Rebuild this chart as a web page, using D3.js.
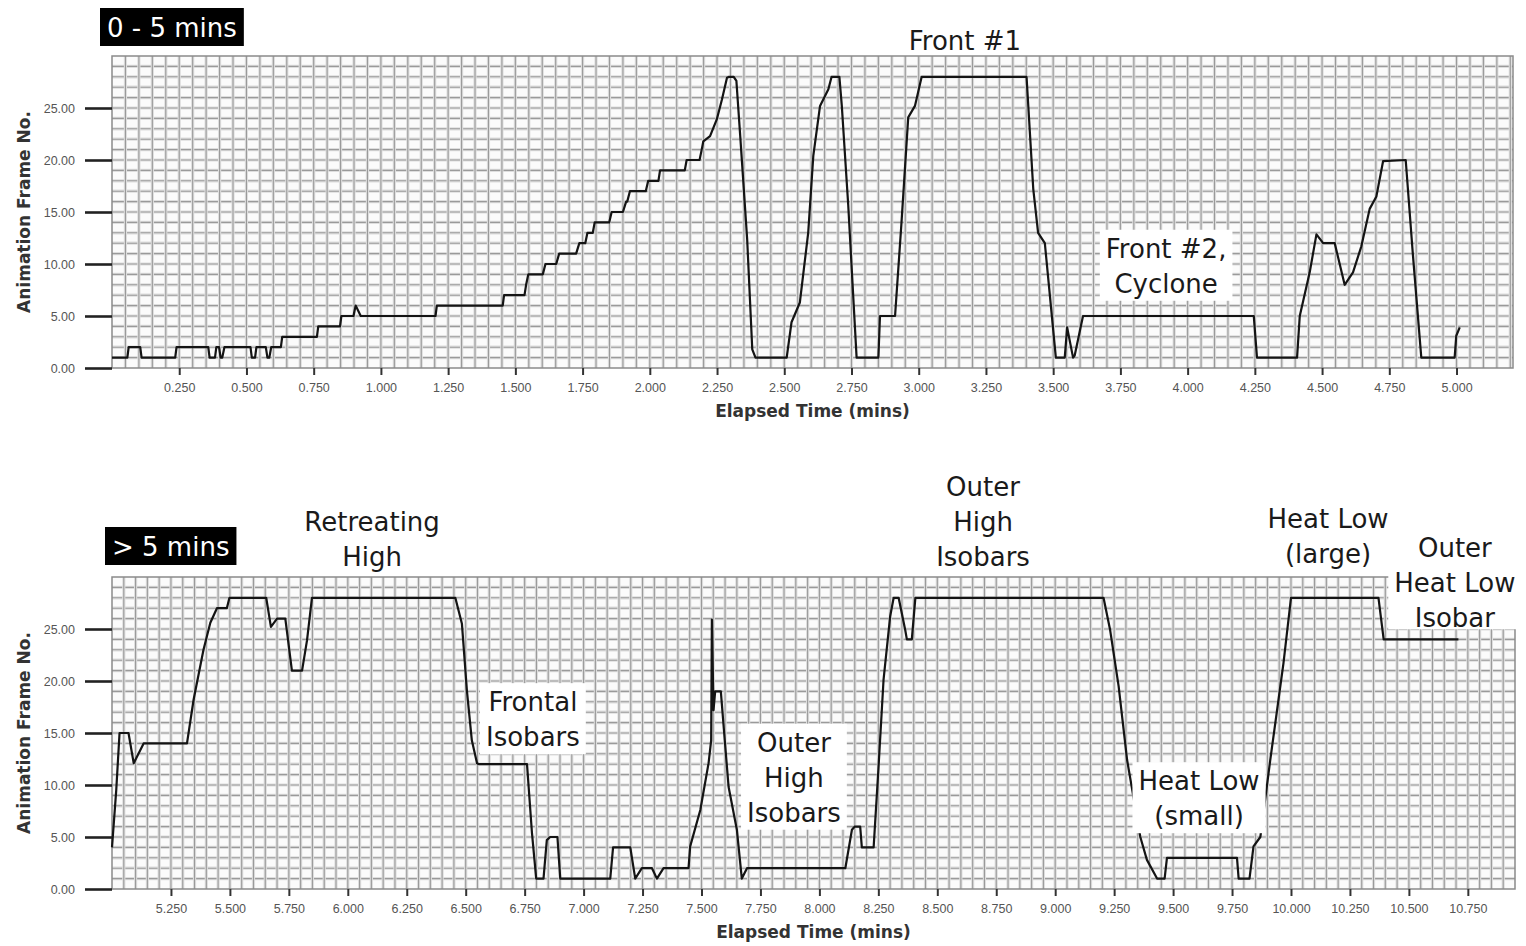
<!DOCTYPE html>
<html>
<head>
<meta charset="utf-8">
<script src="https://cdn.jsdelivr.net/npm/d3@7"></script>
<style>
  body { margin: 0; background: #fff; }
  svg { display: block; }
</style>
</head>
<body>
<svg id="chart" width="1526" height="946"></svg>
<script>
// Animation frame no. against elapsed minutes
const earlyTrace = [
  [0, 1], [0.057, 1], [0.062, 2], [0.105, 2], [0.110, 1], [0.235, 1], [0.240, 2],
  [0.358, 2], [0.363, 1], [0.383, 1], [0.388, 2], [0.398, 2], [0.404, 1], [0.410, 1],
  [0.418, 2], [0.515, 2], [0.520, 1], [0.532, 1], [0.537, 2], [0.572, 2], [0.578, 1],
  [0.585, 1], [0.592, 2], [0.628, 2], [0.633, 3], [0.762, 3], [0.767, 4], [0.848, 4],
  [0.853, 5], [0.898, 5], [0.906, 6], [0.925, 5], [1.203, 5], [1.208, 6], [1.453, 6],
  [1.458, 7], [1.534, 7], [1.540, 8], [1.548, 9], [1.602, 9], [1.612, 10], [1.652, 10],
  [1.663, 11], [1.726, 11], [1.738, 12], [1.760, 12], [1.768, 13], [1.788, 13],
  [1.795, 14], [1.849, 14], [1.858, 15], [1.900, 15], [1.912, 16], [1.916, 16],
  [1.926, 17], [1.985, 17], [1.994, 18], [2.032, 18], [2.038, 19], [2.130, 19],
  [2.137, 20], [2.185, 20], [2.193, 21], [2.199, 21.8], [2.224, 22.3], [2.249, 23.9],
  [2.268, 25.8], [2.287, 27.9], [2.295, 28], [2.312, 28], [2.322, 27.6], [2.337, 22],
  [2.362, 12.4], [2.381, 1.8], [2.393, 1], [2.509, 1], [2.527, 4.4], [2.558, 6.3],
  [2.589, 13], [2.608, 20.4], [2.633, 25.2], [2.664, 26.8], [2.676, 28], [2.705, 28],
  [2.714, 25.2], [2.738, 15.6], [2.769, 1], [2.850, 1], [2.856, 5], [2.912, 5],
  [2.936, 14], [2.961, 24.1], [2.986, 25.2], [3.011, 28], [3.401, 28], [3.426, 17.2],
  [3.444, 13], [3.469, 12], [3.510, 1], [3.543, 1], [3.552, 3.9], [3.574, 1],
  [3.580, 1.2], [3.611, 5], [4.246, 5], [4.258, 1], [4.407, 1], [4.417, 5],
  [4.454, 9.2], [4.479, 12.85], [4.504, 12], [4.547, 12], [4.584, 8], [4.615, 9.2],
  [4.646, 11.7], [4.677, 15.3], [4.702, 16.5], [4.727, 19.9], [4.811, 20],
  [4.838, 10.8], [4.869, 1], [4.993, 1], [4.999, 3.1], [5.012, 3.9]
];

const lateTrace = [
  [5.0, 4], [5.018, 9.5], [5.032, 15], [5.07, 15], [5.092, 12.1], [5.134, 14],
  [5.318, 14], [5.346, 18.2], [5.388, 23], [5.417, 25.6], [5.445, 27], [5.487, 27],
  [5.498, 28], [5.654, 28], [5.674, 25.2], [5.70, 26], [5.735, 26], [5.763, 21],
  [5.806, 21], [5.827, 23.9], [5.848, 28], [6.456, 28], [6.484, 25.5], [6.505, 19.1],
  [6.526, 14.3], [6.548, 12.1], [6.557, 12], [6.760, 12], [6.781, 5.4], [6.799, 1],
  [6.830, 1], [6.844, 4.7], [6.858, 5], [6.889, 5], [6.901, 1], [7.113, 1],
  [7.125, 4], [7.198, 4], [7.219, 1], [7.247, 2], [7.29, 2], [7.311, 1], [7.339, 2],
  [7.445, 2], [7.452, 4.1], [7.495, 7.6], [7.53, 12.1], [7.541, 14.3], [7.544, 25.9],
  [7.551, 17.2], [7.558, 19], [7.582, 19], [7.594, 15.6], [7.615, 9.8], [7.65, 5.7],
  [7.671, 1], [7.693, 2], [8.11, 2], [8.138, 5.7], [8.15, 6], [8.173, 6], [8.18, 4],
  [8.23, 4], [8.251, 11.8], [8.272, 20.1], [8.30, 26.2], [8.315, 28], [8.336, 28],
  [8.364, 24.9], [8.371, 24], [8.392, 24], [8.407, 28], [9.205, 28], [9.233, 24.9],
  [9.269, 19.5], [9.305, 12.4], [9.361, 5], [9.389, 2.8], [9.432, 1], [9.464, 1],
  [9.474, 3], [9.771, 3], [9.778, 1], [9.824, 1], [9.841, 4.1], [9.87, 5],
  [9.912, 12.4], [9.968, 21.7], [10.0, 28], [10.371, 28], [10.393, 24], [10.71, 24]
];

const frameTicks = [0, 5, 10, 15, 20, 25];
const earlyTimeTicks = [0.25, 0.5, 0.75, 1, 1.25, 1.5, 1.75, 2, 2.25, 2.5, 2.75, 3,
  3.25, 3.5, 3.75, 4, 4.25, 4.5, 4.75, 5];
const lateTimeTicks = [5.25, 5.5, 5.75, 6, 6.25, 6.5, 6.75, 7, 7.25, 7.5, 7.75, 8,
  8.25, 8.5, 8.75, 9, 9.25, 9.5, 9.75, 10, 10.25, 10.5, 10.75];

const earlyNotes = [
  { lines: ['Front #1'], at: [3.172, 30.6], box: false },
  { lines: ['Front #2,', 'Cyclone'], at: [3.92, 10.6], box: true }
];
const lateNotes = [
  { lines: ['Retreating', 'High'], at: [6.103, 34.4], box: false },
  { lines: ['Frontal', 'Isobars'], at: [6.785, 17.1], box: true },
  { lines: ['Outer', 'High', 'Isobars'], at: [7.892, 13.2], box: true },
  { lines: ['Outer', 'High', 'Isobars'], at: [8.694, 37.8], box: false },
  { lines: ['Heat Low', '(small)'], at: [9.61, 9.5], box: true },
  { lines: ['Heat Low', '(large)'], at: [10.157, 34.7], box: false },
  { lines: ['Outer', 'Heat Low', 'Isobar'], at: [10.695, 31.9], box: true, wide: true }
];

const svg = d3.select('#chart');
const NOTE_FONT = "'DejaVu Sans', Verdana, sans-serif";

const panels = [
  { trace: earlyTrace, ticks: earlyTimeTicks, domain: [0, 5.21], notes: earlyNotes,
    left: 112, right: 1513, top: 56, bottom: 368, tag: '0 - 5 mins', tagX: 100, tagY: 8 },
  { trace: lateTrace, ticks: lateTimeTicks, domain: [5, 10.95], notes: lateNotes,
    left: 112, right: 1515, top: 577, bottom: 889, tag: '> 5 mins', tagX: 105, tagY: 527 }
];

panels.forEach(drawPanel);

// a soft halo under a thin grey line, like the scanned grid
function gridLines(g, data, attrs) {
  [['#dedede', 3.2], ['#9a9a9a', 1.1]].forEach(([colour, w]) => {
    g.selectAll(null)
      .data(data)
      .enter()
      .append('line')
      .attr('x1', attrs.x1).attr('x2', attrs.x2)
      .attr('y1', attrs.y1).attr('y2', attrs.y2)
      .attr('stroke', colour)
      .attr('stroke-width', w);
  });
}

function drawPanel(p) {
  const g = svg.append('g');
  const x = d3.scaleLinear().domain(p.domain).range([p.left, p.right]);
  const y = d3.scaleLinear().domain([0, 30]).range([p.bottom, p.top]);

  // Plot background + grid (0.05 min by 1 frame)
  g.append('rect')
    .attr('x', p.left).attr('y', p.top)
    .attr('width', p.right - p.left).attr('height', p.bottom - p.top)
    .attr('fill', '#fbfbfb');

  const rows = d3.range(1, 30);
  const nCols = Math.floor((p.domain[1] - p.domain[0]) / 0.05 + 1e-6);
  const cols = d3.range(1, nCols + 1).map((i) => p.domain[0] + i * 0.05).filter((d) => d < p.domain[1] - 1e-6);

  const grid = g.append('g');
  gridLines(grid, rows, { x1: p.left, x2: p.right, y1: (d) => y(d), y2: (d) => y(d) });
  gridLines(grid, cols, { x1: (d) => x(d), x2: (d) => x(d), y1: p.top, y2: p.bottom });

  g.append('rect')
    .attr('x', p.left).attr('y', p.top)
    .attr('width', p.right - p.left).attr('height', p.bottom - p.top)
    .attr('fill', 'none')
    .attr('stroke', '#8a8a8a')
    .attr('stroke-width', 1.5);

  // Trace
  const line = d3.line().x((d) => x(d[0])).y((d) => y(d[1]));
  g.append('path')
    .attr('d', line(p.trace))
    .attr('fill', 'none')
    .attr('stroke', '#141414')
    .attr('stroke-width', 2.2)
    .attr('stroke-linejoin', 'round');

  // Y axis - long heavy ticks
  const yAxis = g.append('g')
    .attr('transform', `translate(${p.left},0)`)
    .call(d3.axisLeft(y).tickValues(frameTicks).tickSize(27).tickPadding(10).tickFormat(d3.format('.2f')));
  yAxis.select('.domain').remove();
  yAxis.selectAll('.tick line').attr('stroke', '#222').attr('stroke-width', 2.6);
  yAxis.selectAll('.tick text')
    .attr('font-family', "'Liberation Sans', Arial, sans-serif")
    .attr('font-size', '12.5px')
    .attr('fill', '#555');

  // X axis
  const xAxis = g.append('g')
    .attr('transform', `translate(0,${p.bottom})`)
    .call(d3.axisBottom(x).tickValues(p.ticks).tickSize(7).tickPadding(8).tickFormat(d3.format('.3f')));
  xAxis.select('.domain').remove();
  xAxis.selectAll('.tick line').attr('stroke', '#333').attr('stroke-width', 2);
  xAxis.selectAll('.tick text')
    .attr('font-family', "'Liberation Sans', Arial, sans-serif")
    .attr('font-size', '12.5px')
    .attr('fill', '#555');

  // Axis titles
  g.append('text')
    .attr('transform', `translate(30,${(p.top + p.bottom) / 2}) rotate(-90)`)
    .attr('text-anchor', 'middle')
    .attr('font-family', NOTE_FONT)
    .attr('font-weight', 'bold')
    .attr('font-size', '17px')
    .attr('fill', '#333')
    .text('Animation Frame No.');

  g.append('text')
    .attr('x', (p.left + p.right) / 2)
    .attr('y', p.bottom + 49)
    .attr('text-anchor', 'middle')
    .attr('font-family', NOTE_FONT)
    .attr('font-weight', 'bold')
    .attr('font-size', '17px')
    .attr('fill', '#333')
    .text('Elapsed Time (mins)');

  // Black tag box
  const tag = g.append('g');
  const tagText = tag.append('text')
    .attr('x', p.tagX + 7)
    .attr('y', p.tagY + 29)
    .attr('font-family', NOTE_FONT)
    .attr('font-size', '26px')
    .attr('fill', '#fff')
    .text(p.tag);
  const tb = tagText.node().getBBox();
  tag.insert('rect', 'text')
    .attr('x', p.tagX).attr('y', p.tagY)
    .attr('width', tb.width + 14).attr('height', 38)
    .attr('fill', '#000');

  // Annotations
  p.notes.forEach((n) => {
    const ng = g.append('g');
    const cx = x(n.at[0]);
    const y0 = y(n.at[1]);
    const txt = ng.append('text')
      .attr('text-anchor', 'middle')
      .attr('font-family', NOTE_FONT)
      .attr('font-size', '26px')
      .attr('fill', '#1a1a1a');
    n.lines.forEach((l, i) => {
      txt.append('tspan').attr('x', cx).attr('y', y0 + i * 35).text(l);
    });
    if (n.box) {
      const b = txt.node().getBBox();
      const right = n.wide ? 1526 : b.x + b.width + 6;
      ng.insert('rect', 'text')
        .attr('x', b.x - 6).attr('y', b.y - 4)
        .attr('width', right - (b.x - 6)).attr('height', b.height + (n.wide ? 0 : 6))
        .attr('fill', '#fff');
    }
  });
}
</script>
</body>
</html>
